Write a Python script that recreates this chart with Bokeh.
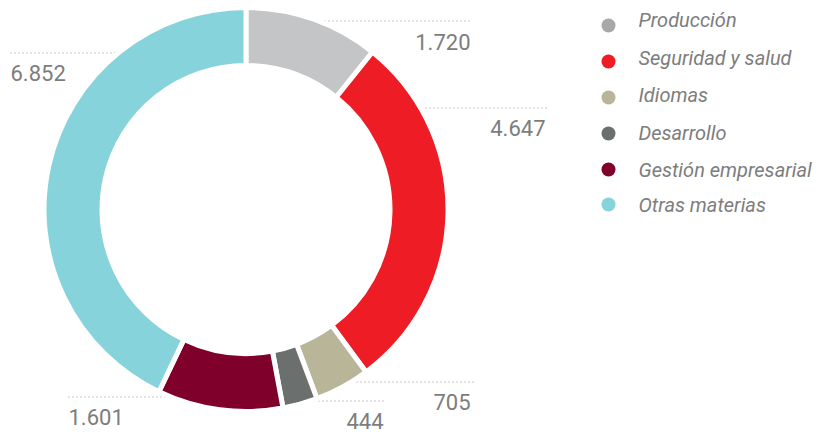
import numpy as np
from bokeh.plotting import figure
from bokeh.models import Range1d, ColumnDataSource
from bokeh.core.properties import value
from bokeh.embed import file_html
from bokeh.resources import INLINE

categories = ["Producción", "Seguridad y salud", "Idiomas", "Desarrollo",
              "Gestión empresarial", "Otras materias"]
values = [1720, 4647, 705, 444, 1601, 6852]
value_labels = ["1.720", "4.647", "705", "444", "1.601", "6.852"]
colors = ["#c4c5c7", "#ee1c25", "#b9b599", "#6b706f", "#7f002b", "#86d3dc"]
legend_colors = ["#a8a8a8", "#ee1c25", "#b9b599", "#6b706f", "#7f002b", "#86d3dc"]

W, H = 828, 434
def Y(py):  # page pixel y -> data y
    return H - py

p = figure(width=W, height=H, output_backend="svg", toolbar_location=None,
           x_range=Range1d(0, W), y_range=Range1d(0, H),
           min_border=0, outline_line_color=None)
p.axis.visible = False
p.grid.visible = False
p.background_fill_color = "white"

# label leader lines (drawn under ring)
lines = [  # x0, x1, page y
    (300, 472, 20.5),
    (405, 547, 107.5),
    (340, 473, 381.5),
    (270, 383, 400.5),
    (68, 185, 396.5),
    (10, 130, 52.5),
]
for x0, x1, py in lines:
    p.line([x0, x1], [Y(py), Y(py)], line_color="#8a8a8a", line_width=1.1,
           line_dash="1 3")

# donut
total = float(np.sum(values))
cum = np.concatenate([[0], np.cumsum(values)])
starts = np.pi / 2 - 2 * np.pi * cum[:-1] / total
ends = np.pi / 2 - 2 * np.pi * cum[1:] / total
src = ColumnDataSource(dict(start=starts, end=ends, color=colors))
cx, cy = 245.5, Y(209)
p.annular_wedge(x=cx, y=cy, inner_radius=144, outer_radius=202,
                inner_radius_units="screen", outer_radius_units="screen",
                start_angle="start", end_angle="end", direction="clock",
                fill_color="color", line_color="white", line_width=5,
                source=src)

# value labels (vertical centres)
lab_x = [470, 545, 470, 383, 68, 10]
lab_y = [41.5, 127.5, 401, 420, 416, 72.5]
lab_align = ["right", "right", "right", "right", "left", "left"]
p.text(x=lab_x, y=[Y(v) for v in lab_y], text=value_labels,
       text_align=lab_align, text_baseline="middle",
       text_font=value("Roboto"), text_font_size="22px", text_color="#7d7d7d")

# legend
dot_y = [25, 61, 97, 133, 169, 204]
txt_y = [19.5, 57.5, 94.5, 132.5, 169.5, 204.5]
p.scatter(x=[608] * len(categories), y=[Y(v) for v in dot_y], size=14,
          fill_color=legend_colors, line_color=None)
p.text(x=[638] * len(categories), y=[Y(v) for v in txt_y], text=categories,
       text_align="left", text_baseline="middle",
       text_font=value("Roboto"), text_font_style="italic",
       text_font_size="20px", text_color="#7d7d7d")

open("out.html", "w").write(file_html(p, INLINE))
